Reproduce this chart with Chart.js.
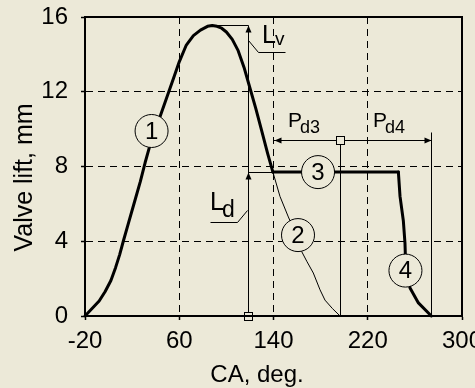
<!DOCTYPE html>
<html>
<head>
<meta charset="utf-8">
<script src="https://cdn.jsdelivr.net/npm/chart.js@4.4.1/dist/chart.umd.min.js"></script>
<style>
  html, body { margin: 0; padding: 0; width: 475px; height: 388px; overflow: hidden; background: #ECE9D8; }
  #wrap { position: absolute; left: 0; top: 0; width: 500px; height: 388px; }
</style>
</head>
<body>
<div id="wrap"><canvas id="chart" width="500" height="388"></canvas></div>
<script>
// Axis ticks
const xTicks = [-20, 60, 140, 220, 300];
const yTicks = [0, 4, 8, 12, 16];

// Curve 1: main cam profile (crank angle, lift)
const profileCA   = [-20, -14, -8, -3, 2, 6, 9.5, 12.5, 17, 22, 27, 31, 35, 40, 45, 50, 55, 60, 66, 72, 78, 84, 88, 92, 96, 100, 105, 110, 115, 120, 125, 130, 135, 139.5];
const profileLift = [0, 0.4, 0.8, 1.3, 1.9, 2.6, 3.3, 4.0, 5.0, 6.1, 7.2, 8.2, 9.1, 10.0, 10.9, 11.8, 12.7, 13.6, 14.5, 15.0, 15.3, 15.5, 15.55, 15.5, 15.4, 15.2, 14.8, 14.2, 13.3, 12.2, 11.1, 9.9, 8.7, 7.7];

// Curve 2: continued closing of the free profile
const freeCA   = [139.5, 145.5, 152.6, 159.6, 163.9, 168.5, 173.8, 179.5, 183.7, 190, 196.5];
const freeLift = [7.7, 6.4, 5.3, 4.3, 3.45, 2.9, 2.3, 1.4, 0.85, 0.4, 0];

// Curve 3: dwell at constant lift
const dwellCA   = [139.5, 246];
const dwellLift = [7.7, 7.7];

// Curve 4: delayed closing
const closeCA   = [246, 247.4, 250.2, 251.6, 252.3, 255.9, 263, 274];
const closeLift = [7.7, 6.4, 5.1, 3.9, 2.5, 1.5, 0.7, 0];

// Dimension values
const peakLift  = 15.55;   // Lv
const peakCA    = 88;
const refCA     = 118;     // reference angle for Lv / Ld
const dwellLiftValue = 7.7; // Ld
const pdLift    = 9.4;     // height of the Pd3 / Pd4 dimension line
const freeEndCA  = 196.5;
const closeEndCA = 274;

const FONT = "'Liberation Sans', Arial, sans-serif";
const BG = '#ECE9D8';

const pts = (xs, ys) => xs.map((x, i) => ({ x, y: ys[i] }));

function lineSet(xs, ys, w) {
  return {
    data: pts(xs, ys), showLine: true, borderColor: '#000', borderWidth: w,
    pointRadius: 0, tension: 0, clip: false, borderJoinStyle: 'round', borderCapStyle: 'round'
  };
}

// Callout circles with curve numbers
const markers = [
  { text: '1', x: 36.5,  y: 9.9 },
  { text: '2', x: 160.8, y: 4.33 },
  { text: '3', x: 177.8, y: dwellLiftValue },
  { text: '4', x: 252,   y: 2.43 }
];

const dimPlugin = {
  id: 'dims',
  afterDatasetsDraw(chart) {
    const { ctx, scales: { x, y }, chartArea: a } = chart;
    const X = v => x.getPixelForValue(v);
    const Y = v => y.getPixelForValue(v);

    ctx.save();
    ctx.strokeStyle = '#000';
    ctx.fillStyle = '#000';
    ctx.lineWidth = 1;

    const seg = (pts) => {
      ctx.beginPath();
      pts.forEach(([cx, cy], i) => {
        const px = Math.round(X(cx)) + 0.5, py = Math.round(Y(cy)) + 0.5;
        i ? ctx.lineTo(px, py) : ctx.moveTo(px, py);
      });
      ctx.stroke();
    };
    const arrow = (cx, cy, dir) => {
      const px = Math.round(X(cx)) + 0.5, py = Math.round(Y(cy)) + 0.5;
      const L = 7, W = 3;
      ctx.beginPath();
      if (dir === 'up')    { ctx.moveTo(px, py); ctx.lineTo(px - W, py + L); ctx.lineTo(px + W, py + L); }
      if (dir === 'left')  { ctx.moveTo(px, py); ctx.lineTo(px + L, py - W); ctx.lineTo(px + L, py + W); }
      if (dir === 'right') { ctx.moveTo(px, py); ctx.lineTo(px - L, py - W); ctx.lineTo(px - L, py + W); }
      ctx.closePath();
      ctx.fill();
    };
    const square = (cx, cy) => {
      const px = Math.round(X(cx)), py = Math.round(Y(cy));
      ctx.fillStyle = BG;
      ctx.fillRect(px - 4, py - 4, 8, 8);
      ctx.strokeRect(px - 3.5, py - 3.5, 8, 8);
      ctx.fillStyle = '#000';
    };

    // Lv: peak level and reference vertical
    seg([[peakCA, peakLift], [refCA, peakLift]]);
    seg([[refCA, 0], [refCA, peakLift]]);
    arrow(refCA, peakLift, 'up');
    // Ld: dwell level
    seg([[refCA, dwellLiftValue], [dwellCA[0], dwellLiftValue]]);
    arrow(refCA, dwellLiftValue, 'up');
    square(refCA, 0);

    // Pd3 / Pd4
    seg([[dwellCA[0], pdLift], [closeEndCA, pdLift]]);
    seg([[freeEndCA, 0], [freeEndCA, pdLift]]);
    seg([[closeEndCA, 0], [closeEndCA, pdLift + 0.45]]);
    arrow(dwellCA[0] + 0.5, pdLift, 'left');
    arrow(closeEndCA, pdLift, 'right');
    square(freeEndCA, pdLift);

    // Leaders under the Lv and Ld labels
    seg([[refCA + 0.6, 14.77], [126.8, 14.14], [149.5, 14.14]]);
    seg([[refCA - 0.8, 5.67], [108.7, 5.05], [86.1, 5.05]]);

    // Labels with subscripts
    const txt = (s, cx, cy, size) => {
      ctx.font = size + 'px ' + FONT;
      ctx.textAlign = 'left';
      ctx.textBaseline = 'alphabetic';
      ctx.fillText(s, X(cx), Y(cy));
    };
    txt('L', 130.3, 14.6, 25);  txt('v', 141.3, 14.5, 19);
    txt('L', 86.1, 5.67, 25);   txt('d', 96.2, 5.31, 23);
    txt('P', 152.3, 10.11, 21); txt('d3', 162.5, 9.79, 18);
    txt('P', 224.5, 10.11, 21); txt('d4', 234.7, 9.79, 18);

    // Numbered circles
    markers.forEach(m => {
      const px = X(m.x), py = Y(m.y);
      ctx.beginPath();
      ctx.arc(px, py, 16.5, 0, Math.PI * 2);
      ctx.fillStyle = BG;
      ctx.fill();
      ctx.stroke();
      ctx.fillStyle = '#000';
      ctx.font = '24px ' + FONT;
      ctx.textAlign = 'center';
      ctx.textBaseline = 'middle';
      ctx.fillText(m.text, px, py + 1);
    });

    // Plot frame
    ctx.lineWidth = 2;
    ctx.strokeRect(a.left, a.top, a.right - a.left, a.bottom - a.top);

    // Axis titles
    ctx.font = '24px ' + FONT;
    ctx.textAlign = 'center';
    ctx.textBaseline = 'alphabetic';
    ctx.fillText('CA, deg.', 257, 382);
    ctx.save();
    ctx.translate(32, 177.5);
    ctx.rotate(-Math.PI / 2);
    ctx.font = '25px ' + FONT;
    ctx.fillText('Valve lift, mm', 0, 0);
    ctx.restore();

    ctx.restore();
  }
};

const gridColor = (edges) => (c) => (c.tick && edges.includes(c.tick.value)) ? 'rgba(0,0,0,0)' : '#000';

new Chart(document.getElementById('chart'), {
  type: 'scatter',
  data: {
    datasets: [
      lineSet(freeCA, freeLift, 1),
      lineSet(profileCA, profileLift, 3),
      lineSet(dwellCA, dwellLift, 3),
      lineSet(closeCA, closeLift, 3)
    ]
  },
  options: {
    responsive: false,
    animation: false,
    devicePixelRatio: 1,
    layout: { padding: { top: 17, right: 38, left: 0, bottom: 0 } },
    plugins: { legend: { display: false }, tooltip: { enabled: false } },
    scales: {
      x: {
        type: 'linear', min: xTicks[0], max: xTicks[xTicks.length - 1],
        afterBuildTicks: s => { s.ticks = xTicks.map(v => ({ value: v })); },
        afterFit: s => { s.height = 72; s.paddingLeft = 0; s.paddingRight = 0; },
        ticks: { font: { size: 24, family: FONT }, color: '#000', padding: 7, maxRotation: 0, autoSkip: false },
        grid: { color: gridColor([xTicks[0], xTicks[xTicks.length - 1]]), lineWidth: 1, tickLength: 4, tickColor: '#000', tickWidth: 1.5 },
        border: { display: true, color: '#000', width: 2, dash: [7, 5] }
      },
      y: {
        type: 'linear', min: yTicks[0], max: yTicks[yTicks.length - 1],
        afterBuildTicks: s => { s.ticks = yTicks.map(v => ({ value: v })); },
        afterFit: s => { s.width = 85; s.paddingTop = 0; s.paddingBottom = 0; },
        ticks: { font: { size: 24, family: FONT }, color: '#000', padding: 13, autoSkip: false },
        grid: { color: gridColor([yTicks[0], yTicks[yTicks.length - 1]]), lineWidth: 1, tickLength: 4, tickColor: '#000', tickWidth: 1.5 },
        border: { display: true, color: '#000', width: 2, dash: [7, 5] }
      }
    }
  },
  plugins: [dimPlugin]
});
</script>
</body>
</html>
